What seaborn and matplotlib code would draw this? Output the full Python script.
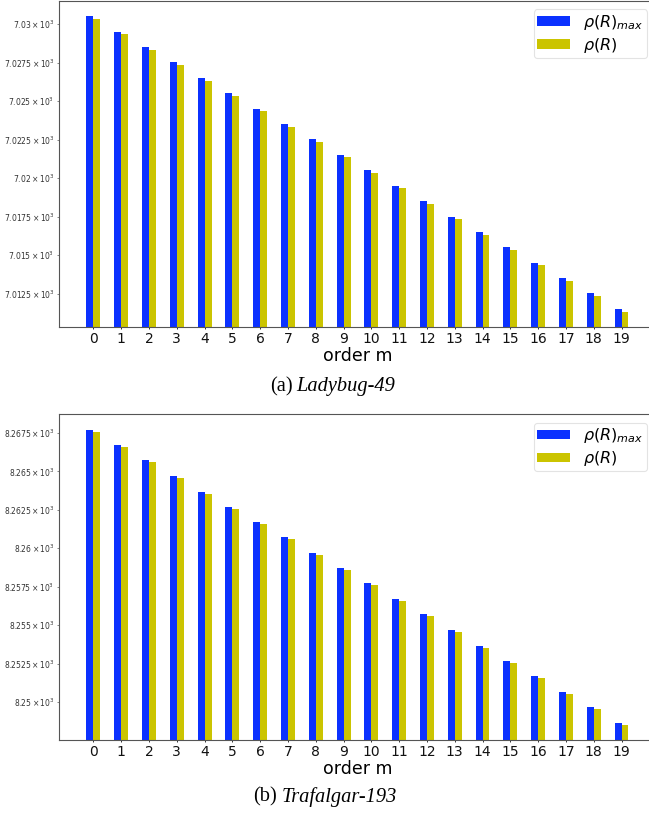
import matplotlib
matplotlib.use("Agg")
import matplotlib.pyplot as plt
import numpy as np
import pandas as pd
import seaborn as sns
from matplotlib.offsetbox import TextArea, HPacker, AnchoredOffsetbox

# Spectral radius per truncation order m, two scenes
orders = list(range(20))
series_names = [r"$\rho(R)_{max}$", r"$\rho(R)$"]
series_colors = ["#0b31ff", "#cbc400"]

ladybug_rho_max = [7030.52, 7029.50, 7028.51, 7027.52, 7026.51, 7025.52, 7024.51,
                   7023.51, 7022.51, 7021.51, 7020.52, 7019.51, 7018.52, 7017.51,
                   7016.52, 7015.53, 7014.52, 7013.53, 7012.53, 7011.53]
ladybug_rho = [7030.34, 7029.33, 7028.34, 7027.35, 7026.32, 7025.32, 7024.33,
               7023.32, 7022.33, 7021.34, 7020.33, 7019.34, 7018.33, 7017.34,
               7016.32, 7015.34, 7014.34, 7013.33, 7012.34, 7011.35]

trafalgar_rho_max = [8267.72, 8266.71, 8265.72, 8264.70, 8263.69, 8262.70, 8261.71,
                     8260.70, 8259.68, 8258.70, 8257.71, 8256.69, 8255.70, 8254.69,
                     8253.66, 8252.69, 8251.67, 8250.67, 8249.67, 8248.66]
trafalgar_rho = [8267.59, 8266.58, 8265.59, 8264.57, 8263.56, 8262.57, 8261.58,
                 8260.57, 8259.55, 8258.57, 8257.58, 8256.54, 8255.58, 8254.56,
                 8253.53, 8252.56, 8251.54, 8250.54, 8249.54, 8248.53]

captions = [("(a)", "Ladybug-49"), ("(b)", "Trafalgar-193")]

W, H = 649, 814
fig = plt.figure(figsize=(W / 100, H / 100), dpi=100)
fig.patch.set_facecolor("white")


def px_axes(left, top, right, bottom):
    return fig.add_axes([left / W, 1 - bottom / H, (right - left) / W, (bottom - top) / H])


def long_frame(rmax, r):
    return pd.DataFrame({
        "order": [str(m) for m in orders] * 2,
        "value": list(rmax) + list(r),
        "series": [series_names[0]] * len(orders) + [series_names[1]] * len(orders),
    })


def draw_panel(ax, rmax, r):
    df = long_frame(rmax, r)
    sns.barplot(data=df, x="order", y="value", hue="series", hue_order=series_names,
                palette=series_colors, saturation=1, width=0.5, errorbar=None,
                linewidth=0, ax=ax)
    ax.set_yscale("log")
    lo = min(min(rmax), min(r)) - 1.0
    hi = max(max(rmax), max(r)) + 1.0
    ax.set_ylim(lo, hi)
    ax.set_xlim(-1.225, len(orders) - 1 + 1.225)
    ax.set_xlabel("order m", fontsize=12.5, labelpad=1)
    ax.set_ylabel("")
    ax.tick_params(axis="x", labelsize=10, length=1.5, width=0.6, pad=2, colors="#111111")
    ax.tick_params(axis="y", which="both", labelsize=5.5, length=1.5, width=0.5, pad=2,
                   labelcolor="#333333", color="#555555")
    for s in ax.spines.values():
        s.set_color("#555555")
        s.set_linewidth(0.8)
    ax.spines["right"].set_visible(False)
    ax.set_facecolor("white")
    ax.grid(False)
    sns.move_legend(ax, "upper right", title=None, fontsize=11.5, handlelength=2.1,
                    handleheight=0.5, handletextpad=0.8, borderpad=0.2,
                    labelspacing=0.25, frameon=True, borderaxespad=0.55)
    leg = ax.get_legend()
    leg.get_frame().set_edgecolor("#dddddd")
    leg.get_frame().set_linewidth(0.8)


def caption(label, name, cx, cy):
    serif = ["Liberation Serif", "DejaVu Serif"]
    a = TextArea(label, textprops=dict(family=serif, size=14.7, color="black"))
    b = TextArea(name, textprops=dict(family=serif, size=14.7, style="italic", color="black"))
    box = HPacker(children=[a, b], align="baseline", pad=0, sep=3)
    anchored = AnchoredOffsetbox(loc="center", child=box, pad=0, borderpad=0, frameon=False,
                                 bbox_to_anchor=(cx / W, 1 - cy / H),
                                 bbox_transform=fig.transFigure)
    fig.add_artist(anchored)


ax_top = px_axes(59.3, 0.7, 655.6, 327)
draw_panel(ax_top, ladybug_rho_max, ladybug_rho)
caption(*captions[0], 332.5, 386.7)

ax_bot = px_axes(59.3, 414.3, 655.6, 740)
draw_panel(ax_bot, trafalgar_rho_max, trafalgar_rho)
caption(*captions[1], 325, 797)

fig.savefig("out.png", dpi=100, facecolor="white")
